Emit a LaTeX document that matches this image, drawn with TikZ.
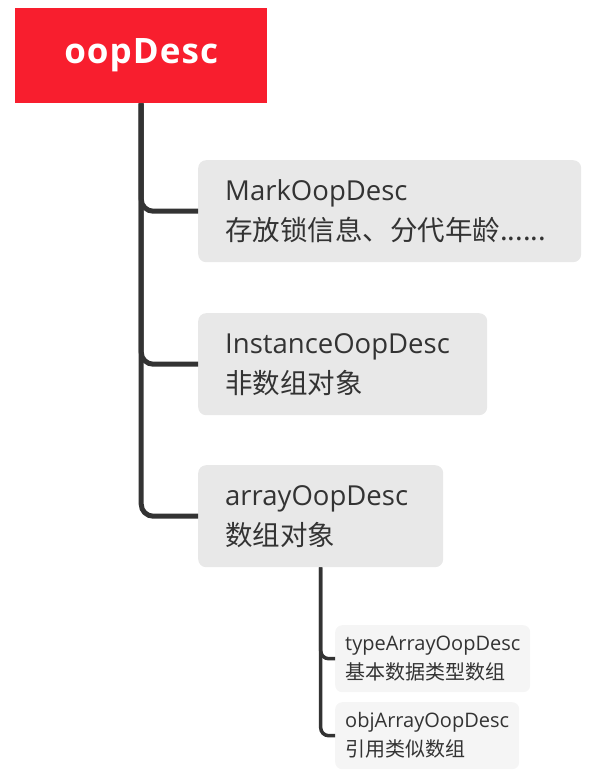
\documentclass[tikz,border=0pt]{standalone}
\usepackage{fontspec}
\setmainfont{Open Sans}
\newfontfamily\cjk{Noto Sans CJK SC}
\newfontfamily\rootfont[LetterSpace=3]{Open Sans}
\newcommand\nohyph{\hyphenpenalty=10000\relax}
\definecolor{rootred}{HTML}{F81E2E}
\definecolor{boxgray}{HTML}{E8E8E8}
\definecolor{boxlight}{HTML}{F5F5F5}
\definecolor{ink}{HTML}{333333}
\begin{document}
\begin{tikzpicture}[x=1pt,y=-1pt,
  rootbox/.style={fill=rootred, anchor=north west, inner sep=0pt, minimum width=252pt, minimum height=95pt,
    text=white, font=\rootfont\fontsize{35}{40}\selectfont\bfseries},
  bigbox/.style={fill=boxgray, rounded corners=8pt, anchor=north west, inner xsep=27pt, inner ysep=0pt,
    minimum height=102pt, align=left, text=ink, font=\fontsize{27.5}{40}\selectfont\nohyph},
  smallbox/.style={fill=boxlight, rounded corners=7pt, anchor=north west, inner xsep=10pt, inner ysep=0pt,
    minimum height=67pt, align=left, text=ink, font=\fontsize{20}{29}\selectfont\nohyph},
  conn/.style={draw=ink, line width=5pt, rounded corners=12pt},
  subconn/.style={draw=ink, line width=3.5pt, rounded corners=8pt}]
\useasboundingbox (0,0) rectangle (600,779);
\node[rootbox] (root) at (15,8) {oopDesc};
\node[bigbox, minimum width=383pt, text width=329pt] (mark) at (198,160) {MarkOopDesc\\{\cjk 存放锁信息、分代年龄......}};
\node[bigbox, minimum width=289pt, text width=235pt] (inst) at (198,313) {InstanceOopDesc\\{\cjk 非数组对象}};
\node[bigbox, minimum width=245pt, text width=191pt] (arr) at (198,465) {arrayOopDesc\\{\cjk 数组对象}};
\node[smallbox, minimum width=195pt, text width=175pt] (tarr) at (335,625) {typeArrayOopDesc\\{\cjk 基本数据类型数组}};
\node[smallbox, minimum width=184pt, text width=164pt] (oarr) at (335,702) {objArrayOopDesc\\{\cjk 引用类似数组}};
\draw[conn] (root.south) |- (mark.west);
\draw[conn] (root.south) |- (inst.west);
\draw[conn] (root.south) |- (arr.west);
\draw[subconn] (arr.south) |- (tarr.west);
\draw[subconn] (arr.south) |- (oarr.west);
\end{tikzpicture}
\end{document}
